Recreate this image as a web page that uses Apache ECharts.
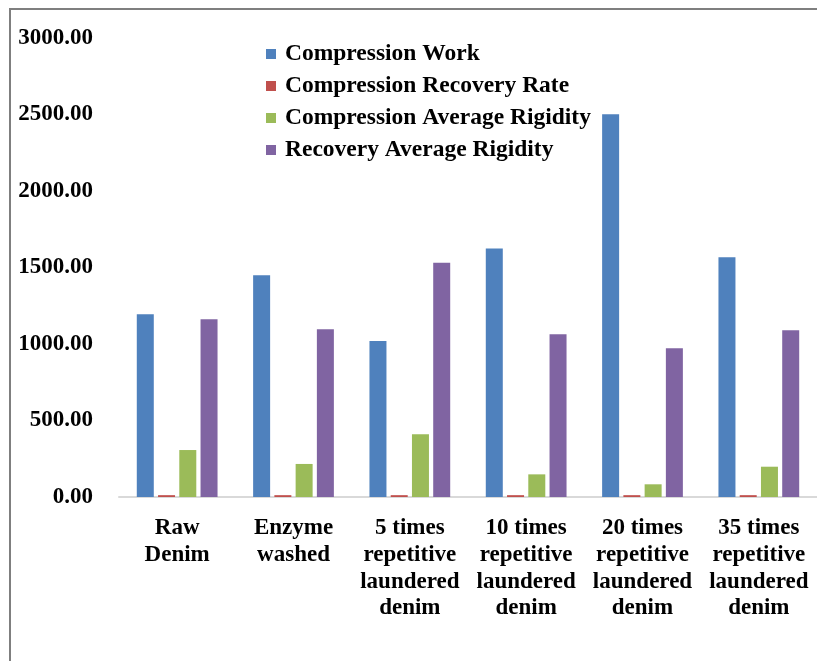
<!DOCTYPE html>
<html>
<head>
<meta charset="utf-8">
<script src="https://cdn.jsdelivr.net/npm/echarts@6/dist/echarts.min.js"></script>
<style>
html,body{margin:0;padding:0;background:#fff;}
#c{width:817px;height:661px;}
</style>
</head>
<body>
<div id="c"></div>
<script>
var categories = ["Raw\nDenim", "Enzyme\nwashed", "5 times\nrepetitive\nlaundered\ndenim", "10 times\nrepetitive\nlaundered\ndenim", "20 times\nrepetitive\nlaundered\ndenim", "35 times\nrepetitive\nlaundered\ndenim"];
var seriesNames = ["Compression Work", "Compression Recovery Rate", "Compression Average Rigidity", "Recovery Average Rigidity"];
var compressionWork = [1194, 1449, 1020, 1625, 2501, 1567];
var recoveryRate = [12, 12, 12, 12, 12, 12];
var compressionRigidity = [307, 216, 410, 148, 83, 198];
var recoveryRigidity = [1161, 1096, 1531, 1063, 972, 1090];
var yTicks = {min: 0, max: 3000, interval: 500};

var colors = ["#4F81BD", "#C0504D", "#9BBB59", "#8064A2"];
var fontFam = "'Liberation Serif','Times New Roman',serif";
var chart = echarts.init(document.getElementById('c'), null, {renderer: 'canvas'});
var dataSets = [compressionWork, recoveryRate, compressionRigidity, recoveryRigidity];
var series = dataSets.map(function (d, i) {
  return {
    name: seriesNames[i],
    type: 'bar',
    data: d,
    barWidth: 17,
    barGap: '25%',
    itemStyle: {color: colors[i]}
  };
});
chart.setOption({
  animation: false,
  backgroundColor: '#fff',
  color: colors,
  grid: {left: 119, top: 38, width: 709, height: 459, containLabel: false},
  legend: {
    orient: 'vertical',
    left: 261,
    top: 37,
    itemWidth: 10,
    itemHeight: 10,
    itemGap: 8,
    icon: 'rect',
    data: seriesNames,
    textStyle: {fontFamily: fontFam, fontWeight: 'bold', fontSize: 23.5, color: '#000', lineHeight: 24, padding: [0, 0, 0, 4]}
  },
  xAxis: {
    type: 'category',
    data: categories,
    axisLine: {lineStyle: {color: '#d9d9d9', width: 2}},
    axisTick: {show: false},
    axisLabel: {
      interval: 0,
      margin: 18,
      fontFamily: fontFam, fontWeight: 'bold', fontSize: 23, color: '#000', lineHeight: 26.7
    }
  },
  yAxis: {
    type: 'value',
    min: yTicks.min, max: yTicks.max, interval: yTicks.interval,
    axisLine: {show: false},
    axisTick: {show: false},
    splitLine: {show: false},
    axisLabel: {
      margin: 26,
      fontFamily: fontFam, fontWeight: 'bold', fontSize: 23, color: '#000',
      formatter: function (v) { return v.toFixed(2); }
    }
  },
  graphic: [{
    type: 'polyline',
    shape: {points: [[10, 661], [10, 9], [817, 9]]},
    style: {stroke: '#7f7f7f', lineWidth: 2, fill: null},
    silent: true
  }],
  series: series
});
</script>
</body>
</html>
